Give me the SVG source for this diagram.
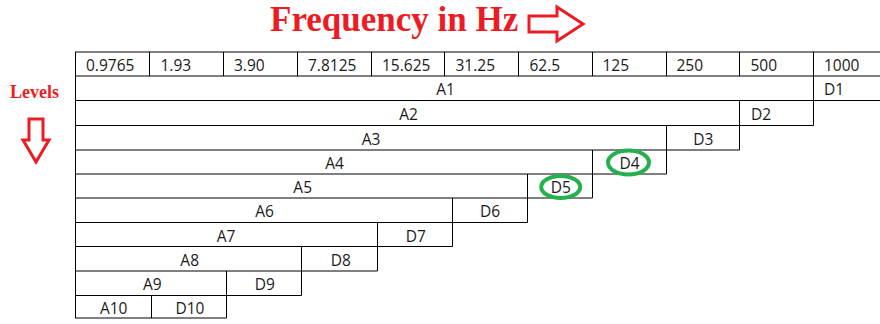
<svg xmlns="http://www.w3.org/2000/svg" width="880" height="324" viewBox="0 0 880 324">
<style>
.t{font-family:"Open Sans","Liberation Sans",sans-serif;font-size:15.5px;fill:#1a1a1a}
.m{text-anchor:middle}
.h{stroke:#000;stroke-width:1;fill:none}
.v{stroke:#000;stroke-width:1;fill:none}
.red{font-family:"Liberation Serif","Times New Roman",serif;font-weight:bold;fill:#ed1c24}
.arr{fill:#fff;stroke:#ed1c24;stroke-width:3;stroke-linejoin:miter}
.ring{fill:none;stroke:#22b14c;stroke-width:4}
</style>
<rect width="880" height="324" fill="#fff"/>
<g id="title">
<text class="red" x="270" y="31" font-size="35">Frequency in Hz</text>
<path class="arr" d="M529,16 H557 V7 L583,24 L557,41 V32 H529 Z"/>
</g>
<g id="levels">
<text class="red" x="10" y="98" font-size="18">Levels</text>
<path class="arr" d="M29,119 H43 V140 H49 L36,162 L23,140 H29 Z"/>
</g>
<g id="connectors">
<path class="h" d="M75,52H880 M75,76H880 M75,100.5H880 M75,125.5H813.5 M75,150H739.5 M75,174H666.5 M75,198H592.5 M75,222.5H527.5 M75,246.5H452.5 M75,271H377.5 M75,295.5H301.5 M75,318H226.5"/>
<path class="v" d="M75.5,52V318 M149.5,52V76 M223.5,52V76 M297.5,52V76 M371.5,52V76 M444.5,52V76 M518.5,52V76 M592.5,52V76 M666.5,52V76 M739.5,52V76 M813.5,52V76 M813.5,76V125.5 M739.5,100.5V150 M666.5,125.5V174 M592.5,150V198 M527.5,174V222.5 M452.5,198V246.5 M377.5,222.5V271 M301.5,246.5V295.5 M226.5,271V318 M151.5,295.5V318"/>
</g>
<g id="header">
<text class="t" x="86" y="71">0.9765</text>
<text class="t" x="160.5" y="71">1.93</text>
<text class="t" x="234" y="71">3.90</text>
<text class="t" x="308" y="71">7.8125</text>
<text class="t" x="382" y="71">15.625</text>
<text class="t" x="455.5" y="71">31.25</text>
<text class="t" x="529.5" y="71">62.5</text>
<text class="t" x="602.5" y="71">125</text>
<text class="t" x="676.5" y="71">250</text>
<text class="t" x="750.5" y="71">500</text>
<text class="t" x="824" y="71">1000</text>
</g>
<g id="level1"><text class="t m" x="445.5" y="95">A1</text><text class="t" x="824" y="95">D1</text></g>
<g id="level2"><text class="t m" x="408.5" y="119.5">A2</text><text class="t" x="751" y="119.5">D2</text></g>
<g id="level3"><text class="t m" x="371" y="144.5">A3</text><text class="t m" x="703.3" y="144.5">D3</text></g>
<g id="level4"><text class="t m" x="334.5" y="169">A4</text><text class="t m" x="629.5" y="169">D4</text><ellipse class="ring" cx="628.5" cy="162.5" rx="20.5" ry="12"/></g>
<g id="level5"><text class="t m" x="302.7" y="193">A5</text><text class="t m" x="560.7" y="193">D5</text><ellipse class="ring" cx="560.7" cy="187" rx="19.5" ry="11"/></g>
<g id="level6"><text class="t m" x="264.5" y="217">A6</text><text class="t m" x="490" y="217">D6</text></g>
<g id="level7"><text class="t m" x="226" y="241.5">A7</text><text class="t m" x="415.7" y="241.5">D7</text></g>
<g id="level8"><text class="t m" x="189.7" y="265.5">A8</text><text class="t m" x="340.7" y="265.5">D8</text></g>
<g id="level9"><text class="t m" x="152.3" y="290">A9</text><text class="t m" x="264.7" y="290">D9</text></g>
<g id="level10"><text class="t m" x="113.7" y="313.5">A10</text><text class="t m" x="190" y="313.5">D10</text></g>
</svg>
